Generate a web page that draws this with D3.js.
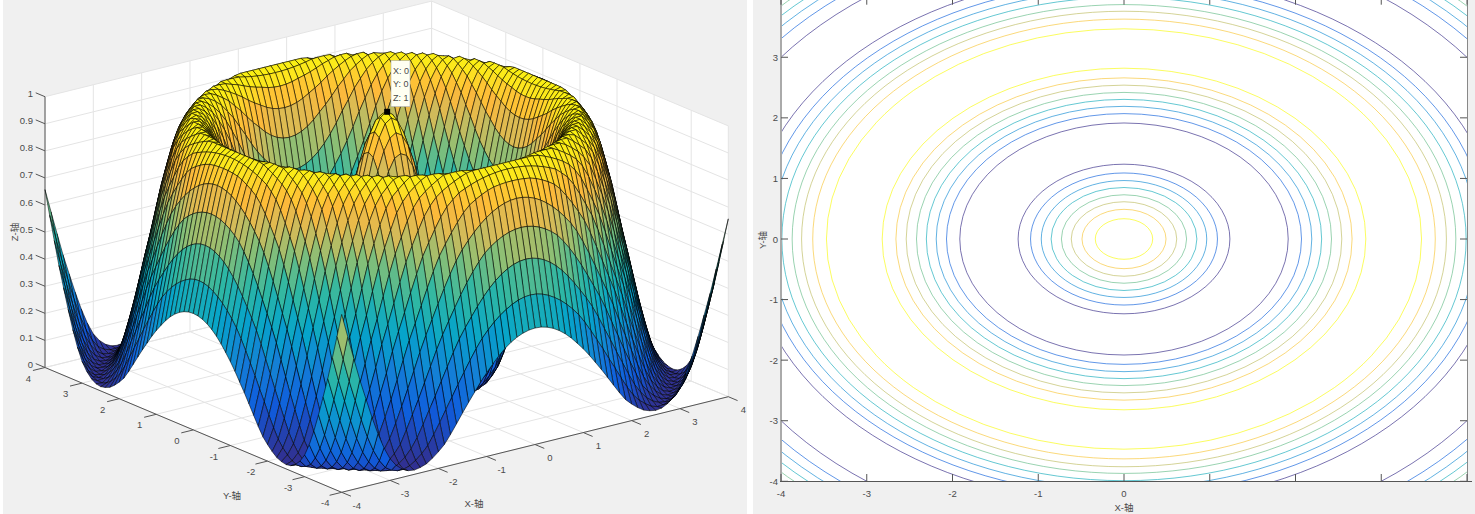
<!DOCTYPE html>
<html><head><meta charset="utf-8">
<script src="https://cdn.jsdelivr.net/npm/d3@7"></script>
<style>
html,body{margin:0;padding:0;background:#fff}
svg{display:block}
text{font-family:"Liberation Sans","Noto Sans CJK SC",sans-serif;font-size:9.5px;fill:#4a4a4a}
</style></head><body>
<svg id="c" width="1475" height="514"></svg>
<script>
// --- values ---
// Surface height against distance from the origin, read along the surface and the contour rings.
// The surface cells are looked up from this radial profile (the picture is a surface of revolution).
const profileRadius = d3.range(0, 5.75, 0.1);
const profileZ = [1,.99,.96,.91,.85,.77,.68,.59,.49,.39,.29,.21,.13,.08,.04,.02,.02,.03,.06,.10,.17,.25,.35,.44,.54,.64,.73,.82,.89,.94,.97,.988,.988,.96,.93,.88,.80,.72,.62,.52,.43,.33,.24,.16,.09,.05,.025,.015,.02,.04,.08,.14,.22,.31,.40,.50,.60,.70];
const axisTicks3d = [-4,-3,-2,-1,0,1,2,3,4];
const zTicks = [0,.1,.2,.3,.4,.5,.6,.7,.8,.9,1];
const tipLines = ["X: 0","Y: 0","Z: 1"];
// contour rings: level and radius read on the right-hand plot
const ringLevels = [.89,.78,.67,.56,.44,.33,.22,.11,  .11,.22,.33,.44,.56,.67,.78,.89,  .89,.78,.67,.56,.44,.33,.22,.11,  .11,.22,.33,.44,.56];
const ringRadii  = [.335,.49,.615,.73,.85,.965,1.09,1.235,  1.915,2.07,2.19,2.305,2.42,2.54,2.66,2.82,  3.47,3.63,3.76,3.87,3.99,4.11,4.23,4.37,  5.0,5.19,5.32,5.44,5.55];
const contourXLabels = [-4,-3,-2,-1,0];   // the source image shows no labels right of 0
const contourYLabels = [-4,-3,-2,-1,0,1,2,3];
const surfaceStops = [0,.125,.25,.375,.5,.625,.74,.82,.875,.93,1];
const surfaceColors = ["#352a87","#0f5cdd","#1481d6","#06a4ca","#2eb7a4","#87bf77","#d6bb58","#fdb93a","#fec832","#fde61e","#f9f40e"];
const ringStops = [0,.125,.25,.375,.5,.625,.75,.875,1];
const ringColors = ["#352a87","#0f5cdd","#1481d6","#06a4ca","#2eb7a4","#87bf77","#d1bb59","#fec832","#f9fb0e"];

const svg = d3.select("#c");
svg.append("rect").attr("width",1475).attr("height",514).attr("fill","#fff");
svg.append("rect").attr("x",3).attr("width",744).attr("height",514).attr("fill","#f0f0f0");
svg.append("rect").attr("x",753).attr("width",722).attr("height",514).attr("fill","#f0f0f0");

// ---------- left: 3D surface ----------
const fx = [341.7,492.3];
const xToSX = d3.scaleLinear().domain([-4,4]).range([0,386.6]);
const xToSY = d3.scaleLinear().domain([-4,4]).range([0,-95.6]);
const yToSX = d3.scaleLinear().domain([-4,4]).range([0,-296.7]);
const yToSY = d3.scaleLinear().domain([-4,4]).range([0,-124.8]);
const zToSY = d3.scaleLinear().domain([0,1]).range([0,-270.8]);
const P = (x,y,z)=>[fx[0]+xToSX(x)+yToSX(y), fx[1]+xToSY(x)+yToSY(y)+zToSY(z)];
const polyPath = d3.line();
const profile = d3.scaleLinear().domain(profileRadius).range(profileZ).clamp(true);
const color = d3.scaleLinear().domain(surfaceStops).range(surfaceColors).interpolate(d3.interpolateRgb);
const lineColor = d3.scaleLinear().domain(ringStops).range(ringColors).interpolate(d3.interpolateRgb);

const g = svg.append("g");
// walls and floor
const planes = [
  [[-4,4,0],[4,4,0],[4,4,1],[-4,4,1]],
  [[4,4,0],[4,-4,0],[4,-4,1],[4,4,1]],
  [[-4,-4,0],[4,-4,0],[4,4,0],[-4,4,0]]
];
g.selectAll(".plane").data(planes).join("path").attr("class","plane")
  .attr("d",d=>polyPath(d.map(p=>P(...p)))+"Z").attr("fill","#fff");
const grid = [];
zTicks.forEach(z=>{grid.push([[-4,4,z],[4,4,z]]);grid.push([[4,4,z],[4,-4,z]]);});
axisTicks3d.forEach(t=>{
  grid.push([[t,4,0],[t,4,1]]);grid.push([[4,t,0],[4,t,1]]);
  grid.push([[t,-4,0],[t,4,0]]);grid.push([[-4,t,0],[4,t,0]]);
});
g.selectAll(".grid").data(grid).join("path").attr("class","grid")
  .attr("d",d=>polyPath(d.map(p=>P(...p)))).attr("stroke","#e4e4e4").attr("stroke-width",1).attr("fill","none");

// axes
const axes = [[[-4,4,0],[-4,-4,0]],[[-4,-4,0],[4,-4,0]],[[-4,4,0],[-4,4,1]]];
g.selectAll(".axis").data(axes).join("path").attr("class","axis")
  .attr("d",d=>polyPath(d.map(p=>P(...p)))).attr("stroke","#555").attr("stroke-width",1).attr("fill","none");
const tickLen = .25;
const tk = [];
axisTicks3d.forEach(t=>{ tk.push([[-4,t,0],[-4-tickLen,t,0]]); tk.push([[t,-4,0],[t,-4-tickLen,0]]); });
zTicks.forEach(z=>tk.push([[-4,4,z],[-4,4+tickLen,z]]));
g.selectAll(".tick3").data(tk).join("path").attr("class","tick3")
  .attr("d",d=>polyPath(d.map(p=>P(...p)))).attr("stroke","#555").attr("stroke-width",1).attr("fill","none");

// surface, painted from the back corner forward
const cellsPerSide = 64;
const step = 8/cellsPerSide;
const gridVals = d3.range(0,cellsPerSide+1).map(i=>-4+i*step);
const cells = [];
for(let i=gridVals.length-2;i>=0;i--) for(let j=gridVals.length-2;j>=0;j--) cells.push([gridVals[i],gridVals[j]]);
const Z = (x,y)=>profile(Math.hypot(x,y));
g.append("g").selectAll("path").data(cells).join("path")
  .attr("d",([x,y])=>polyPath([[x,y],[x+step,y],[x+step,y+step],[x,y+step]].map(([a,b])=>P(a,b,Z(a,b))))+"Z")
  .attr("fill",([x,y])=>color(Z(x,y)))
  .attr("stroke","#000").attr("stroke-width",.55).attr("stroke-linejoin","round");

// tick labels
const labelsY = axisTicks3d.map(t=>({t,p:P(-4,t,0)}));
g.selectAll(".ly").data(labelsY).join("text").attr("class","ly")
  .attr("x",d=>d.p[0]-16.5).attr("y",d=>d.p[1]+10.5).attr("text-anchor","middle").attr("dominant-baseline","central").text(d=>d.t);
const labelsX = axisTicks3d.map(t=>({t,p:P(t,-4,0)}));
g.selectAll(".lx").data(labelsX).join("text").attr("class","lx")
  .attr("x",d=>d.p[0]+15).attr("y",d=>d.p[1]+12.8).attr("text-anchor","middle").attr("dominant-baseline","central").text(d=>d.t);
g.selectAll(".lz").data(zTicks).join("text").attr("class","lz")
  .attr("x",33).attr("y",d=>P(-4,4,d)[1]-3).attr("text-anchor","end").attr("dominant-baseline","central").text(d=>d);
g.append("text").attr("x",232).attr("y",495).attr("text-anchor","middle").attr("dominant-baseline","central").text("Y-轴");
g.append("text").attr("x",474).attr("y",503).attr("text-anchor","middle").attr("dominant-baseline","central").text("X-轴");
g.append("text").attr("transform","translate(14,232) rotate(-90)").attr("text-anchor","middle").attr("dominant-baseline","central").text("Z-轴");

// data tip
const tip = P(0,0,1);
g.append("rect").attr("x",tip[0]-2.5).attr("y",tip[1]-2.5).attr("width",6).attr("height",6).attr("fill","#000");
g.append("rect").attr("x",391).attr("y",60.7).attr("width",19).attr("height",46).attr("fill","#fffff2").attr("stroke","#aaa").attr("stroke-width",.6);
g.selectAll(".tip").data(tipLines).join("text").attr("class","tip")
  .attr("x",393).attr("y",(d,i)=>70.5+i*13.7).attr("dominant-baseline","central").style("font-size","9px").text(d=>d);

// ---------- right: contour ----------
const sx = d3.scaleLinear().domain([-4,4]).range([781,1467]);
const sy = d3.scaleLinear().domain([-4,4]).range([481.3,-3.3]);
const ringColor = t=>lineColor((t-.11)/.78);
const r = svg.append("g");
svg.append("clipPath").attr("id","plot").append("rect").attr("x",781).attr("y",0).attr("width",686).attr("height",481.3);
r.append("rect").attr("x",781).attr("y",0).attr("width",686).attr("height",481.3).attr("fill","#fff");
const rings = ringRadii.map((rad,i)=>({rad,lev:ringLevels[i]}));
r.append("g").attr("clip-path","url(#plot)").selectAll("ellipse").data(rings).join("ellipse")
  .attr("cx",sx(0)).attr("cy",sy(0)).attr("rx",d=>sx(d.rad)-sx(0)).attr("ry",d=>sy(0)-sy(d.rad))
  .attr("fill","none").attr("stroke",d=>ringColor(d.lev)).attr("stroke-width",.85).attr("stroke-opacity",.78);
// frame and ticks
r.append("line").attr("x1",781).attr("x2",781).attr("y1",0).attr("y2",482).attr("stroke","#aaa").attr("stroke-width",2);
r.append("line").attr("x1",1467.5).attr("x2",1467.5).attr("y1",0).attr("y2",482).attr("stroke","#888").attr("stroke-width",1);
r.append("line").attr("x1",780).attr("x2",1472).attr("y1",481.5).attr("y2",481.5).attr("stroke","#555").attr("stroke-width",1);
const tl = 7;
r.selectAll(".xb").data(axisTicks3d).join("line").attr("class","xb")
  .attr("x1",d=>sx(d)).attr("x2",d=>sx(d)).attr("y1",481).attr("y2",481-tl).attr("stroke","#555");
r.selectAll(".xt").data(axisTicks3d).join("line").attr("class","xt")
  .attr("x1",d=>sx(d)).attr("x2",d=>sx(d)).attr("y1",0).attr("y2",sy(4)+tl+1).attr("stroke","#555");
r.selectAll(".yl").data(contourYLabels).join("line").attr("class","yl")
  .attr("x1",781).attr("x2",781+tl).attr("y1",d=>sy(d)).attr("y2",d=>sy(d)).attr("stroke","#555");
r.selectAll(".yr").data(contourYLabels).join("line").attr("class","yr")
  .attr("x1",1467).attr("x2",1467-tl).attr("y1",d=>sy(d)).attr("y2",d=>sy(d)).attr("stroke","#555");
r.selectAll(".tx").data(contourXLabels).join("text").attr("class","tx")
  .attr("x",d=>sx(d)).attr("y",493).attr("text-anchor","middle").attr("dominant-baseline","central").text(d=>d);
r.selectAll(".ty").data(contourYLabels).join("text").attr("class","ty")
  .attr("x",778).attr("y",d=>sy(d)).attr("text-anchor","end").attr("dominant-baseline","central").text(d=>d);
r.append("text").attr("x",1124).attr("y",507.5).attr("text-anchor","middle").attr("dominant-baseline","central").text("X-轴");
r.append("text").attr("transform","translate(762,240) rotate(-90)").attr("text-anchor","middle").attr("dominant-baseline","central").text("Y-轴");
</script></body></html>
